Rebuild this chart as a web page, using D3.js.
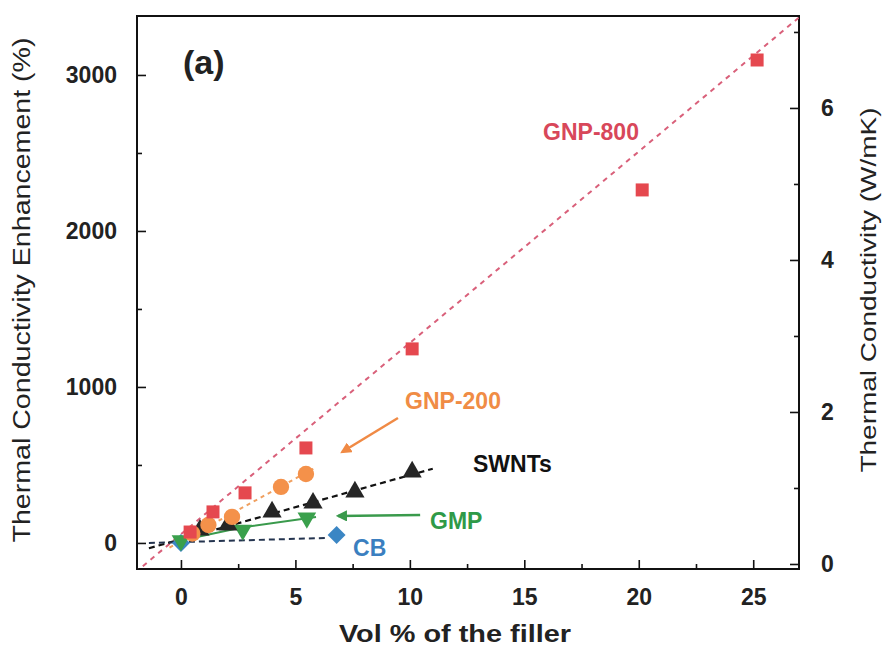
<html>

<head>
  <title>Thermal conductivity enhancement vs filler</title>
  <script type="text/javascript" src="https://cdn.jsdelivr.net/npm/d3@7"></script>
  <style>
    body { margin: 0; background: #fff; }
    text { font-family: "Liberation Sans", Arial, sans-serif; }
  </style>
</head>

<body>
  <script type="text/javascript">
    // Stoerrelse
    const w = 887;
    const h = 649;
    const margin = { top: 16, right: 88, bottom: 80, left: 137 };

    // Akser
    const xTicks = [0, 5, 10, 15, 20, 25];
    const xMinor = [2.5, 7.5, 12.5, 17.5, 22.5];
    const yLeftTicks = [0, 1000, 2000, 3000];
    const yLeftMinor = [500, 1500, 2500];
    const yRightTicks = [0, 2, 4, 6];
    const yRightMinor = [1, 3, 5, 7];

    // Data (vol %, enhancement %)
    const gnp800X = [0.4, 1.4, 2.8, 5.46, 10.1, 20.15, 25.17];
    const gnp800Y = [70, 199, 321, 609, 1244, 2263, 3096];
    const gnp200X = [0.5, 1.2, 2.23, 4.37, 5.46];
    const gnp200Y = [60, 115, 167, 359, 442];
    const swntX = [0.83, 2.05, 3.98, 5.77, 7.6, 10.1];
    const swntY = [83, 115, 199, 256, 327, 455];
    const gmpX = [0, 2.7, 5.5];
    const gmpY = [15, 83, 160];
    const cbX = [0, 6.8];
    const cbY = [0, 51];

    // Fit-linjer
    const gnp800FitX = [-2, 27.5];
    const gnp800FitY = [-190, 3430];
    const gnp200FitX = [-0.5, 5.9];
    const gnp200FitY = [-30, 485];
    const swntFitX = [-1.4, 11];
    const swntFitY = [-34, 476];
    const gmpFitX = [0.7, 2.7, 5.9];
    const gmpFitY = [38, 100, 167];
    const cbFitX = [-1.4, 6.4];
    const cbFitY = [0, 32];

    // Pile (fra, til)
    const arrowOrange = [[9.48, 801], [7.04, 583]];
    const arrowGreen = [[10.45, 179], [6.86, 173]];

    const xScale = d3.scaleLinear()
      .domain([-1.92, 27.0])
      .range([margin.left, w - margin.right]);
    const yScale = d3.scaleLinear()
      .domain([-167, 3378])
      .range([h - margin.bottom, margin.top]);
    const yRight = d3.scaleLinear()
      .domain([-0.066, 7.21])
      .range([h - margin.bottom, margin.top]);

    const svg = d3.select("body")
      .append("svg")
      .attr("width", w)
      .attr("height", h);

    svg.append("rect")
      .attr("width", w)
      .attr("height", h)
      .attr("fill", "#fff");

    const defs = svg.append("defs");
    defs.append("clipPath")
      .attr("id", "plotclip")
      .append("rect")
      .attr("x", margin.left)
      .attr("y", margin.top)
      .attr("width", w - margin.left - margin.right)
      .attr("height", h - margin.top - margin.bottom);

    // Akser med ticks indad
    const bottomY = h - margin.bottom;
    const rightX = w - margin.right;
    const fmt = d3.format("d");

    svg.append("g")
      .attr("transform", "translate(0," + bottomY + ")")
      .call(d3.axisBottom(xScale).tickValues(xTicks).tickSize(-9).tickPadding(20).tickFormat(fmt));
    svg.append("g")
      .attr("transform", "translate(0," + bottomY + ")")
      .call(d3.axisBottom(xScale).tickValues(xMinor).tickSize(-5).tickFormat(""));

    svg.append("g")
      .attr("transform", "translate(" + margin.left + ",0)")
      .call(d3.axisLeft(yScale).tickValues(yLeftTicks).tickSize(-9).tickPadding(20).tickFormat(fmt));
    svg.append("g")
      .attr("transform", "translate(" + margin.left + ",0)")
      .call(d3.axisLeft(yScale).tickValues(yLeftMinor).tickSize(-5).tickFormat(""));

    svg.append("g")
      .attr("transform", "translate(" + rightX + ",0)")
      .call(d3.axisRight(yRight).tickValues(yRightTicks).tickSize(-9).tickPadding(22).tickFormat(fmt));
    svg.append("g")
      .attr("transform", "translate(" + rightX + ",0)")
      .call(d3.axisRight(yRight).tickValues(yRightMinor).tickSize(-5).tickFormat(""));

    svg.selectAll(".domain").remove();
    svg.selectAll(".tick line").attr("stroke", "#111").attr("stroke-width", 1.6);
    svg.selectAll(".tick text")
      .attr("font-size", 23)
      .attr("font-weight", "bold")
      .attr("fill", "#222");

    // Ramme
    svg.append("rect")
      .attr("x", margin.left)
      .attr("y", margin.top)
      .attr("width", rightX - margin.left)
      .attr("height", bottomY - margin.top)
      .attr("fill", "none")
      .attr("stroke", "#111")
      .attr("stroke-width", 2);

    const plot = svg.append("g").attr("clip-path", "url(#plotclip)");

    const line = d3.line()
      .x(function (d) { return xScale(d[0]); })
      .y(function (d) { return yScale(d[1]); });

    function drawFit(xs, ys, color, dash, width) {
      plot.append("path")
        .datum(d3.zip(xs, ys))
        .attr("d", line)
        .attr("fill", "none")
        .attr("stroke", color)
        .attr("stroke-width", width)
        .attr("stroke-dasharray", dash);
    }

    drawFit(gnp800FitX, gnp800FitY, "#d9607a", "5,5", 2);
    drawFit(gnp200FitX, gnp200FitY, "#f0a060", "4,4", 2);
    drawFit(swntFitX, swntFitY, "#111", "6,4", 2.2);
    drawFit(cbFitX, cbFitY, "#24344f", "6,4", 2);
    drawFit(gmpFitX, gmpFitY, "#3a9a4c", null, 2);

    function drawPoints(xs, ys, type, size, color, rot) {
      plot.selectAll(null)
        .data(d3.zip(xs, ys))
        .enter()
        .append("path")
        .attr("d", d3.symbol().type(type).size(size))
        .attr("transform", function (d) {
          return "translate(" + xScale(d[0]) + "," + yScale(d[1]) + ") rotate(" + rot + ")";
        })
        .attr("fill", color);
    }

    drawPoints(cbX, cbY, d3.symbolSquare, 160, "#3b86c4", 45);
    drawPoints(gmpX, gmpY, d3.symbolTriangle, 150, "#3aa04c", 180);
    drawPoints(swntX, swntY, d3.symbolTriangle, 160, "#262626", 0);
    drawPoints(gnp200X, gnp200Y, d3.symbolCircle, 210, "#f4914a", 0);
    drawPoints(gnp800X, gnp800Y, d3.symbolSquare, 169, "#e5484f", 0);

    // Pile
    function marker(id, color) {
      defs.append("marker")
        .attr("id", id)
        .attr("viewBox", "0 0 10 10")
        .attr("refX", 8)
        .attr("refY", 5)
        .attr("markerWidth", 4.5)
        .attr("markerHeight", 4.5)
        .attr("orient", "auto")
        .append("path")
        .attr("d", "M0,0 L10,5 L0,10 z")
        .attr("fill", color);
    }
    marker("arrO", "#f08a45");
    marker("arrG", "#3a9a4c");

    function arrow(pts, color, id) {
      svg.append("line")
        .attr("x1", xScale(pts[0][0]))
        .attr("y1", yScale(pts[0][1]))
        .attr("x2", xScale(pts[1][0]))
        .attr("y2", yScale(pts[1][1]))
        .attr("stroke", color)
        .attr("stroke-width", 2.5)
        .attr("marker-end", "url(#" + id + ")");
    }
    arrow(arrowOrange, "#f08a45", "arrO");
    arrow(arrowGreen, "#3a9a4c", "arrG");

    // Serie-labels
    const labels = [
      { t: "GNP-800", x: 15.82, y: 2583, c: "#d8475a" },
      { t: "GNP-200", x: 9.79, y: 859, c: "#f08c45" },
      { t: "SWNTs", x: 12.76, y: 455, c: "#111" },
      { t: "GMP", x: 10.88, y: 90, c: "#2f9a48" },
      { t: "CB", x: 7.52, y: -83, c: "#3b7fc0" }
    ];
    svg.selectAll(".lab")
      .data(labels)
      .enter()
      .append("text")
      .attr("x", function (d) { return xScale(d.x); })
      .attr("y", function (d) { return yScale(d.y); })
      .attr("font-size", 23)
      .attr("font-weight", "bold")
      .attr("fill", function (d) { return d.c; })
      .text(function (d) { return d.t; });

    svg.append("text")
      .attr("x", 183)
      .attr("y", 74)
      .attr("font-size", 34)
      .attr("font-weight", "bold")
      .attr("fill", "#222")
      .text("(a)");

    // Akse-titler
    svg.append("text")
      .attr("transform", "translate(30,290) rotate(-90)")
      .attr("text-anchor", "middle")
      .attr("font-size", 23)
      .attr("fill", "#222")
      .attr("textLength", 505)
      .attr("lengthAdjust", "spacingAndGlyphs")
      .text("Thermal Conductivity Enhancement (%)");

    svg.append("text")
      .attr("transform", "translate(876,290) rotate(-90)")
      .attr("text-anchor", "middle")
      .attr("font-size", 22)
      .attr("fill", "#222")
      .attr("textLength", 365)
      .attr("lengthAdjust", "spacingAndGlyphs")
      .text("Thermal Conductivity (W/mK)");

    svg.append("text")
      .attr("x", 455)
      .attr("y", 642)
      .attr("text-anchor", "middle")
      .attr("font-size", 24)
      .attr("font-weight", "bold")
      .attr("fill", "#222")
      .attr("textLength", 232)
      .attr("lengthAdjust", "spacingAndGlyphs")
      .text("Vol % of the filler");
  </script>
</body>

</html>
